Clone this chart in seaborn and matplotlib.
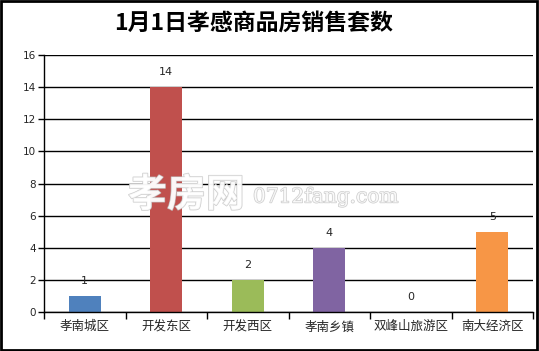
import matplotlib
matplotlib.use("Agg")
import matplotlib.pyplot as plt
import matplotlib.patheffects as pe
from matplotlib.patches import Rectangle
import seaborn as sns
import pandas as pd
import numpy as np

categories = ["孝南城区", "开发东区", "开发西区", "孝南乡镇", "双峰山旅游区", "南大经济区"]
values = [1, 14, 2, 4, 0, 5]
colors = ["#4F81BD", "#C0504D", "#9BBB59", "#8064A2", "#4BACC6", "#F79646"]
title = "1月1日孝感商品房销售套数"
yticks = [0, 2, 4, 6, 8, 10, 12, 14, 16]

sns.set_theme(style="white")
plt.rcParams['font.family'] = ['Noto Sans CJK SC', 'DejaVu Sans']

fig = plt.figure(figsize=(5.39, 3.51), dpi=100)
ax = fig.add_axes([44/539, 1-312/351, (533-44)/539, (312-55)/351])

df = pd.DataFrame({"cat": categories, "val": values})
sns.barplot(data=df, x="cat", y="val", hue="cat", palette=colors, legend=False,
            width=0.39, ax=ax, saturation=1, linewidth=0, edgecolor="none")

ax.set_ylim(0, 16)
ax.set_xlim(-0.5, len(categories) - 0.5)
ax.set_yticks(yticks)
ax.set_yticklabels([str(v) for v in yticks], fontsize=7.5, family=['DejaVu Sans'])
ax.yaxis.grid(True, color="black", linewidth=1)
ax.set_axisbelow(True)
ax.set_xlabel("")
ax.set_ylabel("")
for s in ["top", "right"]:
    ax.spines[s].set_visible(False)
for s in ["left", "bottom"]:
    ax.spines[s].set_color("black")
    ax.spines[s].set_linewidth(1)

ax.tick_params(axis="y", which="major", left=True, length=4, width=1, color="black", pad=2)
ax.set_xticks(range(len(categories)))
ax.set_xticklabels(categories, fontsize=9)
ax.set_xticks(np.arange(-0.5, len(categories)), minor=True)
ax.tick_params(axis="x", which="major", length=0, pad=6)
ax.tick_params(axis="x", which="minor", bottom=True, length=5, width=1, color="black")

for cont in ax.containers:
    ax.bar_label(cont, labels=[f"{int(v)}" for v in cont.datavalues], padding=7,
                 fontsize=8, family=['DejaVu Sans'])

fig.text(0.47, 0.935, title, ha="center", va="center", fontsize=16.5,
         fontweight="bold", color="black")

# watermark
wm_effect = [pe.withStroke(linewidth=1.0, foreground="#c0c0c0")]
fig.text(128/539, 1-195/351, "孝房网", fontsize=28, color="white", alpha=0.8,
         ha="left", va="center", fontweight="bold", path_effects=wm_effect)
fig.text(253/539, 1-197/351, "0712fang.com", fontsize=14.5, color="white", alpha=0.8,
         ha="left", va="center", family=["DejaVu Serif"], path_effects=wm_effect)

fig.patches.append(Rectangle((0.002, 0.003), 0.995, 0.994, transform=fig.transFigure,
                             fill=False, edgecolor="black", linewidth=2))

fig.savefig("out.png", dpi=100)
